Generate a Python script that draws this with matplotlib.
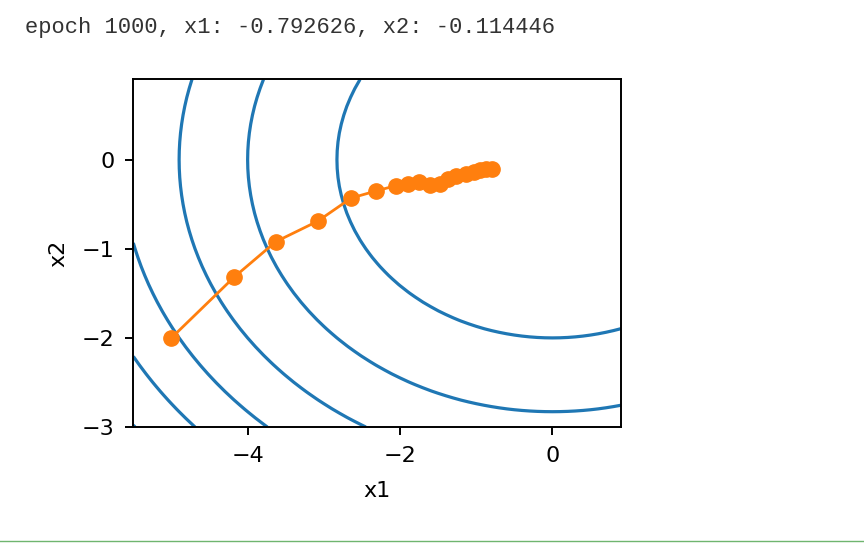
"""SGD trajectory on f(x1, x2) = x1^2 + 2 * x2^2, with contour lines of f."""

import numpy as np
import matplotlib.pyplot as plt

plt.rcParams["font.family"] = "DejaVu Sans"

# objective: f = A * x1^2 + B * x2^2 on the grid range below
A, B = 1.0, 2.0
X1_RANGE = (-5.5, 1.0, 0.1)
X2_RANGE = (-3.0, 1.0, 0.1)

# trajectory
traj_x1 = [-5.00, -4.18, -3.63, -3.08, -2.64, -2.31, -2.05, -1.89, -1.75,
           -1.61, -1.48, -1.37, -1.26, -1.14, -1.03, -0.95, -0.87, -0.79]
traj_x2 = [-2.00, -1.32, -0.92, -0.69, -0.43, -0.35, -0.29, -0.27, -0.25,
           -0.28, -0.27, -0.22, -0.18, -0.16, -0.14, -0.12, -0.11, -0.11]

xticks = [-4, -2, 0]
yticks = [0, -1, -2, -3]

header = "epoch 1000, x1: -0.792626, x2: -0.114446"

x1, x2 = np.meshgrid(np.arange(*X1_RANGE), np.arange(*X2_RANGE), indexing="ij")
f = A * x1 ** 2 + B * x2 ** 2

fig = plt.figure(figsize=(8.64, 5.49), dpi=100)
ax = fig.add_axes([0.1543, 0.2222, 0.5645, 0.6330])

ax.contour(x1, x2, f, colors="#1f77b4", linewidths=2.3)
ax.plot(traj_x1, traj_x2, "-o", color="#ff7f0e", lw=2.0, ms=11)

ax.set_xticks(xticks)
ax.set_yticks(yticks)
ax.set_xlabel("x1", fontsize=16, labelpad=11)
ax.set_ylabel("x2", fontsize=16, labelpad=10)
ax.tick_params(labelsize=16, width=1.4, length=6, pad=7.5)
for s in ax.spines.values():
    s.set_linewidth(1.4)

fig.text(0.029, 0.94, header, family="Liberation Mono", fontsize=15.9,
         color="#333333", va="baseline")
fig.add_artist(plt.Line2D([0, 1], [0.0146, 0.0146], transform=fig.transFigure,
                          color="#6fb56f", lw=1.0))

fig.savefig("out.png", dpi=100)
